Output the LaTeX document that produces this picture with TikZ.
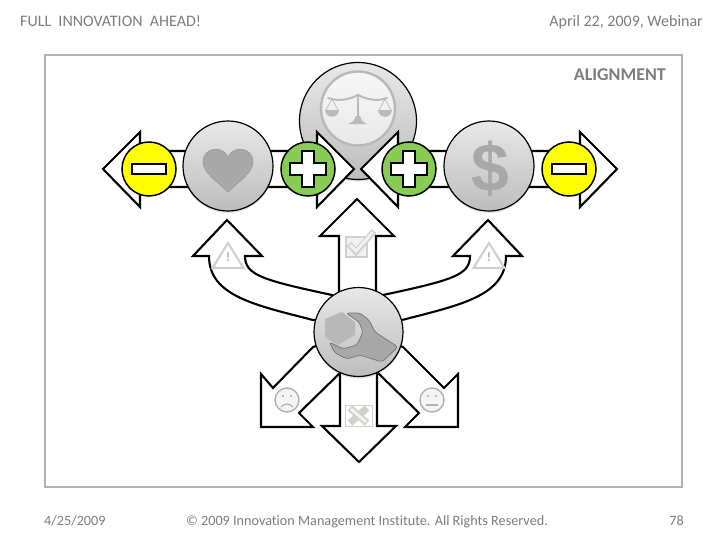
\documentclass[tikz,border=0pt]{standalone}
\usepackage{fontspec}
\setmainfont[Ligatures=NoCommon]{Carlito}
\newfontfamily\dollarfont{Liberation Sans}
\usetikzlibrary{shadows}
\definecolor{framegray}{RGB}{178,178,178}
\definecolor{textgray}{RGB}{125,125,125}
\definecolor{icongray}{RGB}{168,168,168}
\definecolor{markgray}{RGB}{208,208,205}
\definecolor{signyellow}{RGB}{255,255,0}
\definecolor{signgreen}{RGB}{136,204,84}
\tikzset{
  hubdisc/.style={circle,draw=black,line width=1.2pt,inner sep=0pt,top color=black!9,bottom color=black!26,
    drop shadow={opacity=0.22,shadow xshift=0pt,shadow yshift=-2pt}},
  signdisc/.style={circle,draw=black,line width=1.5pt,inner sep=0pt,minimum size=54pt},
  blockarrow/.style={draw=black,fill=white,line width=2.1pt,miter limit=20},
  signmark/.style={draw=black,fill=white,line width=2.6pt},
  faintmark/.style={draw=markgray,line width=2.2pt},
  headtext/.style={text=textgray,font=\fontsize{16}{18}\selectfont,inner sep=0pt,anchor=base},
  foottext/.style={text=textgray,font=\fontsize{14.2}{16}\selectfont,inner sep=0pt,anchor=base}
}
\newcommand{\doublearrow}[2]{\draw[blockarrow] (#1,169) -- (#1+37,132) -- (#1+37,151) -- (#2-37,151) -- (#2-37,132) -- (#2,169) -- (#2-37,207) -- (#2-37,187) -- (#1+37,187) -- (#1+37,207) -- cycle;}
\newcommand{\plusmark}[1]{\draw[signmark,shift={(#1)}] (-6,-18) -- (6,-18) -- (6,-6) -- (18,-6) -- (18,6) -- (6,6) -- (6,18) -- (-6,18) -- (-6,6) -- (-18,6) -- (-18,-6) -- (-6,-6) -- cycle;}
\newcommand{\minusmark}[1]{\draw[signmark,shift={(#1)}] (-17,-5) rectangle (17,5);}
\newcommand{\warnmark}[2]{\draw[faintmark,line join=miter] (#1,243) -- (#1+15.5,268) -- (#1-15.5,268) -- cycle;
  \node[text=markgray!85!black,font=\bfseries\fontsize{13}{13}\selectfont,inner sep=0pt] (#2) at (#1,257) {!};}
\newcommand{\facemark}[2]{\draw[draw=markgray!85!black,fill=black!4,line width=1.4pt] (#1,400) circle (12);
  \fill[markgray!80!black] (#1-4,396) circle (1.2) (#1+4,396) circle (1.2);
  \draw[markgray!85!black,line width=1.2pt] #2;}
\newcommand{\panmark}[1]{\draw[line width=0.7pt,fill=none] (#1,99) -- (#1-6,110) (#1,99) -- (#1+6,110);
  \fill (#1-7,110) .. controls (#1-6,119) and (#1+6,119) .. (#1+7,110) -- cycle;}
\begin{document}
\begin{tikzpicture}[x=1pt,y=-1pt]
\useasboundingbox[fill=white] (0,0) rectangle (728,546);
\draw[framegray,line width=2.2pt] (45,55) rectangle (682,487);
\node[headtext,anchor=base west] (talktitle) at (20,26) {FULL\ \ INNOVATION\ \ AHEAD!};
\node[headtext,anchor=base east] (talkdate) at (703,26) {April 22, 2009, Webinar};
\node[text=textgray,font=\bfseries\fontsize{18}{20}\selectfont,anchor=base east,inner sep=0pt] (sectionname) at (666,80) {ALIGNMENT};
\node[foottext,anchor=base west] (footdate) at (44,525) {4/25/2009};
\node[foottext] (footcopy) at (367,525) {\textcopyright{} 2009 Innovation Management Institute. All Rights Reserved.};
\node[foottext,anchor=base east] (footpage) at (684,525) {78};
% top disc with the scales
\node[hubdisc,minimum size=117pt] (scalesdisc) at (358,121) {};
\draw[draw=black!28,line width=2.4pt,top color=black!3,bottom color=black!9] (358,108.5) circle (37);
\begin{scope}[draw=black!27,fill=black!27,line cap=round]
\draw[line width=2pt] (328,98) .. controls (340,102) and (350,99) .. (358,95) .. controls (366,99) and (376,102) .. (387,98);
\draw[line width=2.4pt] (358,97) -- (358,122);
\fill (348,124) .. controls (354,122) and (355,119) .. (356,116) -- (360,116) .. controls (361,119) and (362,122) .. (367,124) -- cycle;
\panmark{332}
\panmark{385}
\end{scope}
% double arrows
\doublearrow{103}{354}
\doublearrow{361}{617}
\coordinate (toolscentre) at (358.5,332);
% arrows out of the tools disc
\foreach \mir/\off in {1/0,-1/715}{
  \draw[blockarrow,shift={(\off,0)},xscale=\mir] (227,220) -- (262,256) -- (245,256) .. controls (245,275) and (262,280) .. (332,295) -- (345,320) -- (313,320) .. controls (255,305) and (209,296) .. (209,256) -- (193,256) -- cycle;
}
\draw[blockarrow] (357,199) -- (394,236) -- (376,236) -- (376,310) -- (339,310) -- (339,236) -- (320,236) -- cycle;
\draw[blockarrow] (313,347) -- (273,388) -- (261,374) -- (261,427) -- (313,427) -- (299,413) -- (340,373) -- (toolscentre) -- cycle;
\draw[blockarrow] (403,347) -- (444,388) -- (458,374) -- (458,427) -- (405,427) -- (419,413) -- (378,373) -- (toolscentre) -- cycle;
\draw[blockarrow] (340,350) -- (340,426) -- (322,426) -- (359,462) -- (396,426) -- (377,426) -- (377,350) -- cycle;
% discs
\node[hubdisc,minimum size=90pt] (heartdisc) at (228,166) {};
\node[hubdisc,minimum size=90pt] (dollardisc) at (489,166) {};
\node[hubdisc,minimum size=89pt] (toolsdisc) at (toolscentre) {};
\node[signdisc,fill=signyellow] (minusleft) at (149,169) {};
\node[signdisc,fill=signgreen] (plusleft) at (308,169) {};
\node[signdisc,fill=signgreen] (plusright) at (409,169) {};
\node[signdisc,fill=signyellow] (minusright) at (569,169) {};
\plusmark{plusleft}
\plusmark{plusright}
\minusmark{minusleft}
\minusmark{minusright}
\draw[fill=icongray,draw=black!40,line width=0.6pt] (228,192) .. controls (215,180) and (203,172) .. (203,162) .. controls (203,148) and (222,144) .. (228,157) .. controls (234,144) and (253,148) .. (253,162) .. controls (253,172) and (241,180) .. (228,192) -- cycle;
\node[text=icongray,font=\dollarfont\bfseries\fontsize{68}{68}\selectfont,inner sep=0pt] (dollarsign) at (490,169) {\$};
% tools
\fill[black!28] (325,319) -- (342,312) -- (355,322) -- (355,335) -- (338,345) -- (325,337) -- cycle;
\draw[fill=black!34,draw=black!55,line width=0.7pt,rounded corners=3pt] (346,313) -- (360,313) -- (369,320) -- (375,332) -- (398,347) -- (382,362) -- (360,355) -- (347,359) -- (335,353) -- (329,342) -- (343,349) -- (357,345) -- (363,332) -- (359,322) -- cycle;
% faint marks on the arrows
\warnmark{228}{warnleft}
\warnmark{489}{warnright}
\draw[draw=markgray,fill=black!5,line width=1.2pt] (346,237) rectangle (367,257);
\draw[markgray,line width=6pt,miter limit=10] (349,244) -- (356,252) -- (374,231);
\draw[black!5,line width=3pt,miter limit=10] (350,245) -- (356,251) -- (373,232);
\draw[markgray,line width=1pt] (345,405) rectangle (372,426);
\draw[markgray,line width=7pt] (350,408) -- (367,423) (367,408) -- (350,423);
\draw[black!5,line width=3pt] (351,409) -- (366,422);
\facemark{287}{(281,407) .. controls (285,403) and (289,403) .. (293,407)}
\facemark{432}{(426,405) -- (438,405)}
\end{tikzpicture}
\end{document}
